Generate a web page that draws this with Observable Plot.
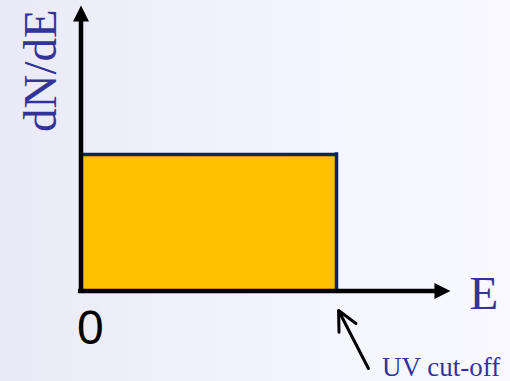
<!DOCTYPE html>
<html>
<head>
<meta charset="utf-8">
<script src="https://cdn.jsdelivr.net/npm/d3@7"></script>
<script src="https://cdn.jsdelivr.net/npm/@observablehq/plot@0.6"></script>
<style>
  html, body { margin: 0; padding: 0; background: #f2f2fc; }
  #chart svg { display: block; }
</style>
</head>
<body>
<div id="chart"></div>
<script>
// Spectrum: flat dN/dE from E = 0 up to the UV cut-off
const spectrumE = [0, 1];          // energy range (cut-off at E = 1)
const spectrumLevel = [1];         // constant dN/dE value
const axisTipE = 1.446;            // end of E-axis arrow
const axisTipN = 2.092;            // end of dN/dE-axis arrow
const axisStartE = -0.01;
const axisStartN = -0.018;
const axisHeadBaseE = 1.387;
const axisHeadBaseN = 1.974;

const labelTexts = ["dN/dE", "E", "0"];
const labelE = [-0.155, 1.577, 0.037];
const labelN = [1.615, -0.018, -0.275];

const noteText = ["UV cut-off"];
const noteE = [1.178];
const noteN = [-0.558];
const noteArrowFrom = [1.125, -0.568];
const noteArrowTo = [1.008, -0.143];

const textBlue = "#333399";
const navy = "#0a2462";
const orange = "#FFC000";

const arrowHead = {
  draw(ctx) {
    ctx.moveTo(0, 0);
    ctx.lineTo(-8, 16);
    ctx.lineTo(8, 16);
    ctx.closePath();
  }
};

const chart = Plot.plot({
  width: 510,
  height: 381,
  margin: 0,
  x: {domain: [0, 1], range: [80.5, 336], axis: null},
  y: {domain: [0, 1], range: [290.5, 154], axis: null},
  style: {background: "linear-gradient(to right, #eaeaf8 0%, #f3f3fc 50%, #f9f9ff 100%)", overflow: "visible"},
  marks: [
    Plot.rect([0], {x1: spectrumE[0], x2: spectrumE[1], y1: 0, y2: spectrumLevel[0], fill: orange}),
    Plot.ruleY([spectrumLevel[0]], {x1: spectrumE[0], x2: spectrumE[1], stroke: navy, strokeWidth: 3.5}),
    Plot.ruleX([spectrumE[1]], {y1: 0, y2: spectrumLevel[0] + 0.012, stroke: navy, strokeWidth: 3.5}),
    // axes
    Plot.ruleY([0], {x1: axisStartE, x2: axisHeadBaseE, stroke: "black", strokeWidth: 4.5}),
    Plot.ruleX([0], {y1: axisStartN, y2: axisHeadBaseN, stroke: "black", strokeWidth: 4.5}),
    Plot.dot([{x: 0, y: axisTipN}], {x: "x", y: "y", symbol: arrowHead, fill: "black", stroke: "none", r: 8}),
    Plot.dot([{x: axisTipE, y: 0}], {x: "x", y: "y", symbol: arrowHead, fill: "black", stroke: "none", r: 8, rotate: 90}),
    // labels
    Plot.text([labelTexts[0]], {x: labelE[0], y: labelN[0], text: d => d, rotate: -90, fontSize: 47,
      fontFamily: "Liberation Serif", fill: textBlue, textAnchor: "middle", lineAnchor: "middle"}),
    Plot.text([labelTexts[1]], {x: labelE[1], y: labelN[1], text: d => d, fontSize: 47,
      fontFamily: "Liberation Serif", fill: textBlue, textAnchor: "middle", lineAnchor: "middle"}),
    Plot.text([labelTexts[2]], {x: labelE[2], y: labelN[2], text: d => d, fontSize: 48,
      fontFamily: "Liberation Sans", fill: "black", textAnchor: "middle", lineAnchor: "middle"}),
    Plot.text(noteText, {x: noteE[0], y: noteN[0], text: d => d, fontSize: 27,
      fontFamily: "Liberation Serif", fill: textBlue, textAnchor: "start", lineAnchor: "middle"}),
    Plot.arrow([0], {x1: noteArrowFrom[0], y1: noteArrowFrom[1], x2: noteArrowTo[0], y2: noteArrowTo[1],
      stroke: "black", strokeWidth: 3, headLength: 20, headAngle: 52, inset: 0})
  ]
});
document.getElementById("chart").appendChild(chart);
</script>
</body>
</html>
